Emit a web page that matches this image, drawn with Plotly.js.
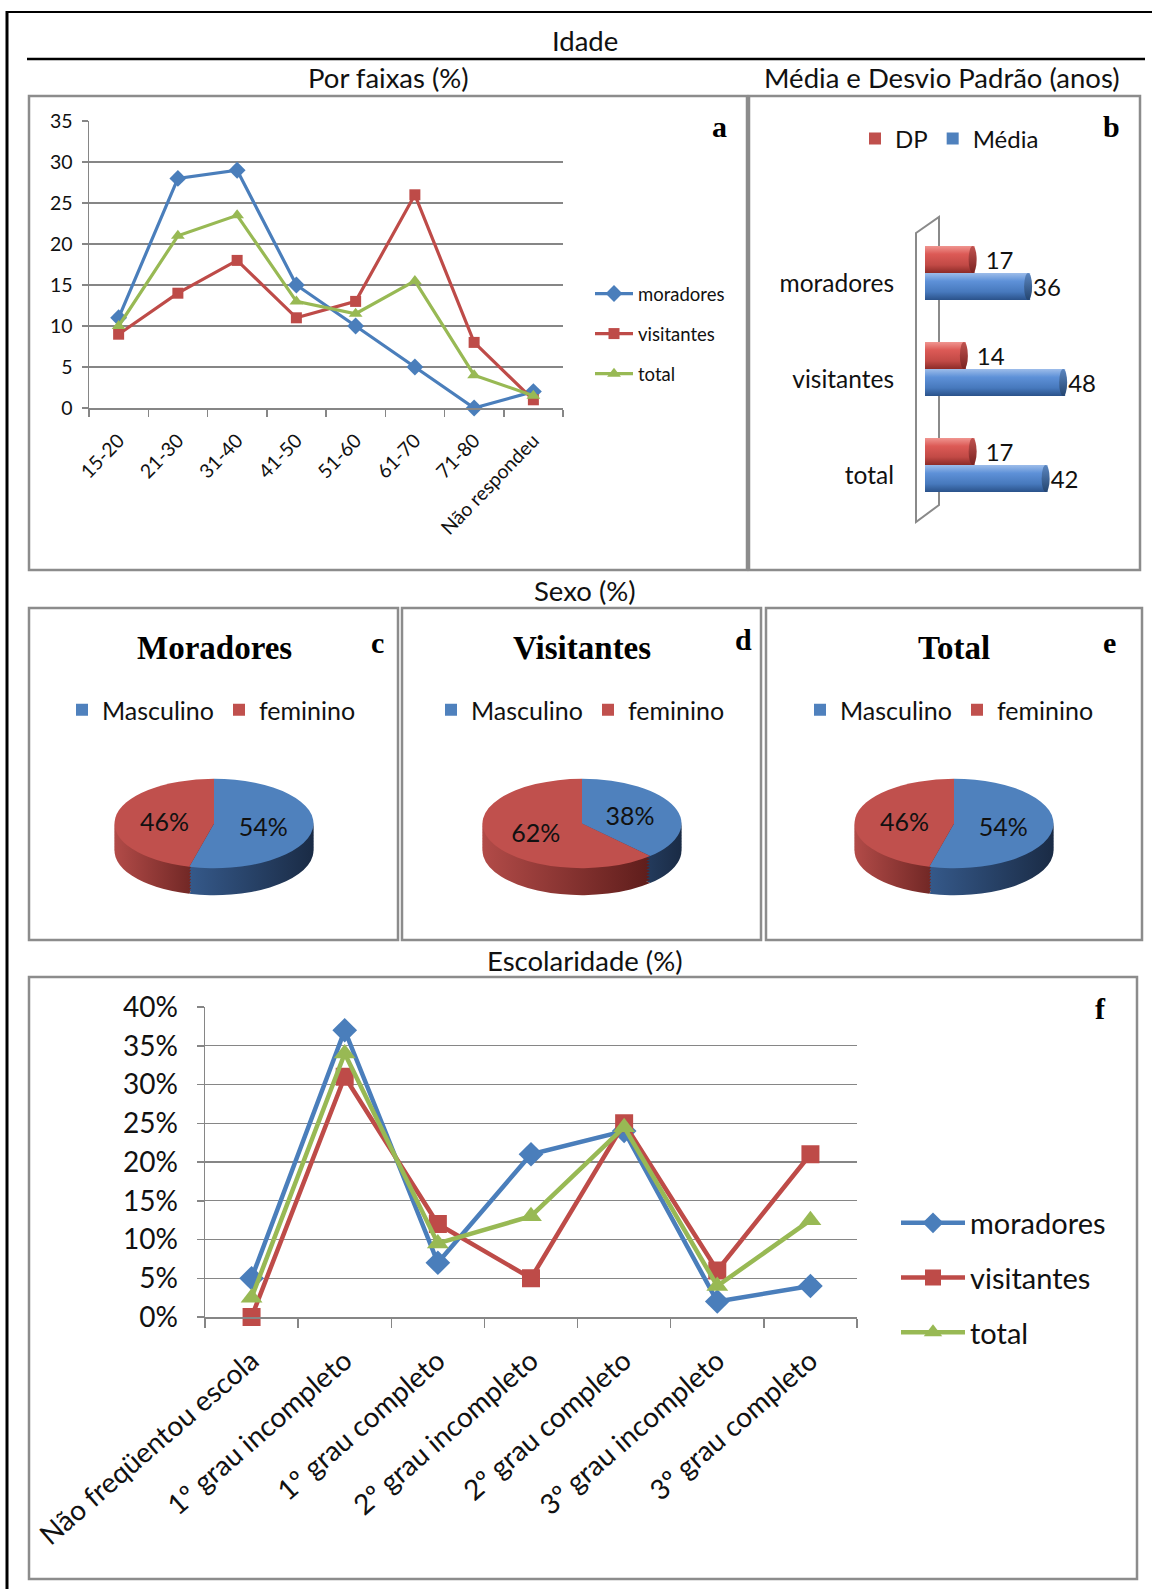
<!DOCTYPE html>
<html><head><meta charset="utf-8">
<script src="https://cdn.plot.ly/plotly-3.0.1.min.js"></script>
<style>html,body{margin:0;padding:0;background:#fff;} #chart{width:1152px;height:1589px;}</style>
</head><body><div id="chart"></div>
<script>
// ---------------- data ----------------
const seriesNames = ['moradores', 'visitantes', 'total'];

const ageGroups = ['15-20', '21-30', '31-40', '41-50', '51-60', '61-70', '71-80', 'Não respondeu'];
const ageMoradores = [11, 28, 29, 15, 10, 5, 0, 2];
const ageVisitantes = [9, 14, 18, 11, 13, 26, 8, 1];
const ageTotal = [10, 21, 23.5, 13, 11.5, 15.5, 4, 1.5];

const statGroups = ['moradores', 'visitantes', 'total'];
const statDP = [17, 14, 17];
const statMedia = [36, 48, 42];

const sexLabels = ['Masculino', 'feminino'];
const sexMoradores = [54, 46];
const sexVisitantes = [38, 62];
const sexTotal = [54, 46];

const eduLevels = ['Não freqüentou escola', '1º grau incompleto', '1º grau completo', '2º grau incompleto', '2º grau completo', '3º grau incompleto', '3º grau completo'];
const eduMoradores = [5, 37, 7, 21, 24, 2, 4];
const eduVisitantes = [0, 31, 12, 5, 25, 6, 21];
const eduTotal = [2.5, 34, 9.5, 13, 24.5, 4, 12.5];

// ---------------- layout helpers ----------------
const W = 1152, H = 1589;
const X = p => p / W;
const Y = p => 1 - p / H;
const FONT = 'Lato, "Open Sans", "DejaVu Sans", sans-serif';
const SERIF = '"Liberation Serif", "Times New Roman", "DejaVu Serif", serif';
const TXT = '#111111';
const GRID = '#868686';
const FRAME = '#8C8C8C';

const lineColors = ['#4A7EBB', '#BE4B48', '#98B954'];
const lineSymbols = ['diamond', 'square', 'triangle-up'];

const data = [];

// panel a
[ageMoradores, ageVisitantes, ageTotal].forEach((ys, i) => data.push({
  type: 'scatter', mode: 'lines+markers', x: ageGroups, y: ys, name: seriesNames[i],
  xaxis: 'x', yaxis: 'y', legend: 'legend', legendgroup: 'a' + i,
  line: {color: lineColors[i], width: 3.2},
  marker: {symbol: lineSymbols[i], size: [13, 11, 12][i], color: lineColors[i]},
  cliponaxis: false, hoverinfo: 'skip'
}));

// panel b
data.push({
  type: 'bar', orientation: 'h', y: statGroups, x: statDP, name: 'DP',
  xaxis: 'x2', yaxis: 'y2', legend: 'legend2',
  marker: {color: '#C0504D', line: {width: 0}},
  texttemplate: '\u2004%{x}', textposition: 'outside', constraintext: 'none',
  textfont: {size: 24, color: TXT, family: FONT}, cliponaxis: false, hoverinfo: 'skip'
});
data.push({
  type: 'bar', orientation: 'h', y: statGroups, x: statMedia, name: 'Média',
  xaxis: 'x2', yaxis: 'y2', legend: 'legend2',
  marker: {color: '#4F81BD', line: {width: 0}},
  texttemplate: '%{x}', textposition: 'outside', constraintext: 'none',
  textfont: {size: 24, color: TXT, family: FONT}, cliponaxis: false, hoverinfo: 'skip'
});

// panels c, d, e (pies drawn flat, then tilted)
const PIE_R = 99.5, PIE_CY = 823.5, PIE_S = 0.449, PIE_T = 27, SIDE_N = 9;
const pies = [
  {values: sexMoradores, cx: 214, legend: 'legend3', group: 'c'},
  {values: sexVisitantes, cx: 582, legend: 'legend4', group: 'd'},
  {values: sexTotal, cx: 954, legend: 'legend5', group: 'e'}
];
const pieMeta = [];
pies.forEach(p => {
  const domain = {x: [X(p.cx - PIE_R), X(p.cx + PIE_R)], y: [Y(PIE_CY + PIE_R), Y(PIE_CY - PIE_R)]};
  for (let k = SIDE_N; k >= 1; k--) {
    data.push({
      type: 'pie', labels: sexLabels, values: p.values, domain, sort: false,
      direction: 'clockwise', rotation: 0, textinfo: 'none', showlegend: false, hoverinfo: 'skip',
      legendgroup: p.group + 'side',
      marker: {colors: ['#2E4A73', '#9B3A37'], line: {width: 0}}
    });
    pieMeta.push({side: true, dy: PIE_T * k / SIDE_N});
  }
  data.push({
    type: 'pie', labels: sexLabels, values: p.values, domain, sort: false,
    direction: 'clockwise', rotation: 0, textinfo: 'percent', textposition: 'inside',
    insidetextorientation: 'horizontal',
    insidetextfont: {size: 25, color: TXT, family: FONT},
    legend: p.legend, legendgroup: p.group, hoverinfo: 'skip',
    marker: {colors: ['#4F81BD', '#C0504D'], line: {width: 0}}
  });
  pieMeta.push({side: false, dy: 0});
});

// panel f
[eduMoradores, eduVisitantes, eduTotal].forEach((ys, i) => data.push({
  type: 'scatter', mode: 'lines+markers', x: eduLevels, y: ys, name: seriesNames[i],
  xaxis: 'x3', yaxis: 'y3', legend: 'legend6', legendgroup: 'f' + i,
  line: {color: lineColors[i], width: 4.5},
  marker: {symbol: lineSymbols[i], size: [19, 18, 19][i], color: lineColors[i]},
  cliponaxis: false, hoverinfo: 'skip'
}));

// ---------------- layout ----------------
const ann = (x, y, text, size, extra) => Object.assign({
  xref: 'paper', yref: 'paper', x: X(x), y: Y(y), text, showarrow: false,
  xanchor: 'center', yanchor: 'middle', font: {size, family: FONT, color: TXT}
}, extra || {});
const serifAnn = (x, y, text, size) => ann(x, y, '<b>' + text + '</b>', size, {font: {size, family: SERIF, color: '#000'}});

const rect = (x0, y0, x1, y1) => ({type: 'rect', xref: 'paper', yref: 'paper', x0: X(x0), x1: X(x1), y0: Y(y1), y1: Y(y0), line: {color: FRAME, width: 2.5}, layer: 'below'});
const hline = (x0, x1, y, color, w) => ({type: 'line', xref: 'paper', yref: 'paper', x0: X(x0), x1: X(x1), y0: Y(y), y1: Y(y), line: {color, width: w}});
const vline = (x, y0, y1, color, w) => ({type: 'line', xref: 'paper', yref: 'paper', x0: X(x), x1: X(x), y0: Y(y0), y1: Y(y1), line: {color, width: w}});
const wallPath = 'M ' + X(916) + ' ' + Y(233) + ' L ' + X(939) + ' ' + Y(217) + ' L ' + X(939) + ' ' + Y(505) + ' L ' + X(916) + ' ' + Y(522) + ' Z';

const catAxis = (dom, anchor, n, size, ticklen, standoff, angle) => ({
  domain: dom, anchor, type: 'category', range: [-0.5, n - 0.5], tickson: 'boundaries',
  ticks: 'outside', ticklen, tickwidth: 1.5, tickcolor: GRID, showline: true, linecolor: GRID, linewidth: 1.5,
  showgrid: false, zeroline: false, tickangle: angle, fixedrange: true, ticklabelstandoff: standoff,
  tickfont: {size, family: FONT, color: TXT}
});
const valAxis = (dom, anchor, max, size, suffix, ticklen, standoff) => ({
  domain: dom, anchor, range: [0, max], dtick: 5, ticksuffix: suffix,
  ticks: 'outside', ticklen, tickwidth: 1.5, tickcolor: GRID, showline: true, linecolor: GRID, linewidth: 1.5,
  showgrid: true, gridcolor: GRID, gridwidth: 1.3, zeroline: false, fixedrange: true, ticklabelstandoff: standoff,
  tickfont: {size, family: FONT, color: TXT}
});
const pieLegend = x => ({orientation: 'h', traceorder: 'normal', x: X(x), xanchor: 'left', y: Y(710), yanchor: 'middle', font: {size: 25, family: FONT, color: TXT}, bgcolor: 'rgba(0,0,0,0)'});

const layout = {
  width: W, height: H, margin: {l: 0, r: 0, t: 0, b: 0},
  paper_bgcolor: '#ffffff', plot_bgcolor: 'rgba(0,0,0,0)',
  font: {family: FONT, color: TXT},
  showlegend: true,
  barmode: 'group', bargap: 0.4375, bargroupgap: 0,
  xaxis: catAxis([X(89), X(563)], 'y', ageGroups.length, 19.5, 7, 12, -46),
  yaxis: valAxis([Y(408), Y(121)], 'x', 35, 19.5, '', 6, 5),
  xaxis2: {domain: [X(925), X(1125)], anchor: 'y2', range: [0, 68.5], visible: false, fixedrange: true},
  yaxis2: {domain: [Y(513), Y(225)], anchor: 'x2', type: 'category', categoryarray: statGroups,
    range: [2.5, -0.5], showgrid: false, showline: false, zeroline: false, ticks: '',
    ticklabelstandoff: 30, ticklabelshift: -10, fixedrange: true,
    tickfont: {size: 24.5, family: FONT, color: TXT}},
  xaxis3: catAxis([X(205), X(857)], 'y3', eduLevels.length, 28, 9, 15, -41),
  yaxis3: valAxis([Y(1317), Y(1007)], 'x3', 40, 28, '%', 7, 13),
  legend: {x: X(590), xanchor: 'left', y: Y(334), yanchor: 'middle', traceorder: 'grouped', tracegroupgap: 13,
    itemwidth: 38, font: {size: 18.5, family: FONT, color: TXT}, bgcolor: 'rgba(0,0,0,0)'},
  legend2: {orientation: 'h', x: X(855), xanchor: 'left', y: Y(139), yanchor: 'middle',
    font: {size: 24, family: FONT, color: TXT}, bgcolor: 'rgba(0,0,0,0)'},
  legend3: pieLegend(62),
  legend4: pieLegend(431),
  legend5: pieLegend(800),
  legend6: {x: X(896), xanchor: 'left', y: Y(1278), yanchor: 'middle', traceorder: 'grouped', tracegroupgap: 14,
    itemwidth: 64, font: {size: 29, family: FONT, color: TXT}, bgcolor: 'rgba(0,0,0,0)'},
  annotations: [
    ann(585, 41, 'Idade', 27.5),
    ann(388, 78, 'Por faixas (%)', 27.5),
    ann(942, 78, 'Média e Desvio Padrão (anos)', 27.5),
    ann(585, 590, 'Sexo (%)', 27.5),
    ann(585, 960, 'Escolaridade (%)', 27.5),
    serifAnn(719, 127, 'a', 30),
    serifAnn(1111, 127, 'b', 30),
    serifAnn(377, 642, 'c', 30),
    serifAnn(743, 640, 'd', 30),
    serifAnn(1109, 642, 'e', 30),
    serifAnn(1100, 1008, 'f', 30),
    serifAnn(214, 648, 'Moradores', 33),
    serifAnn(582, 648, 'Visitantes', 33),
    serifAnn(954, 648, 'Total', 33)
  ],
  shapes: [
    hline(6, 1152, 12, '#000', 2),
    vline(7, 11, 1589, '#000', 3),
    hline(27, 1145, 59, '#000', 2.5),
    rect(29, 96, 747, 570),
    rect(749, 96, 1140, 570),
    rect(29, 608, 398, 940),
    rect(402, 608, 761, 940),
    rect(766, 608, 1142, 940),
    rect(29, 977, 1137, 1579),
    {type: 'path', xref: 'paper', yref: 'paper', path: wallPath, line: {color: '#8a8a8a', width: 2}, fillcolor: 'rgba(0,0,0,0)', layer: 'below'}
  ]
};

// ---------------- render + 3D styling ----------------
const NS = 'http://www.w3.org/2000/svg';
function counterScale(el, s) {
  const orig = el.getAttribute('transform') || '';
  const bb = el.getBBox();
  let cx = bb.x + bb.width / 2, cy = bb.y + bb.height / 2;
  const tl = el.transform && el.transform.baseVal;
  if (tl && tl.numberOfItems) {
    const m = tl.consolidate().matrix;
    const nx = m.a * cx + m.c * cy + m.e, ny = m.b * cx + m.d * cy + m.f;
    cx = nx; cy = ny;
  }
  el.setAttribute('transform', 'translate(' + cx + ' ' + cy + ') scale(1 ' + (1 / s) + ') translate(' + (-cx) + ' ' + (-cy) + ') ' + orig);
}

const gd = document.getElementById('chart');
Plotly.newPlot(gd, data, layout, {staticPlot: true, displayModeBar: false}).then(() => {
  const svg = gd.querySelector('svg.main-svg');
  let defs = svg.querySelector('defs');
  if (!defs) { defs = document.createElementNS(NS, 'defs'); svg.insertBefore(defs, svg.firstChild); }
  function grad(id, vertical, stops) {
    const g = document.createElementNS(NS, 'linearGradient');
    g.setAttribute('id', id);
    g.setAttribute('x1', '0'); g.setAttribute('y1', '0');
    g.setAttribute('x2', vertical ? '0' : '1'); g.setAttribute('y2', vertical ? '1' : '0');
    stops.forEach(([o, c]) => { const s = document.createElementNS(NS, 'stop'); s.setAttribute('offset', o); s.setAttribute('stop-color', c); g.appendChild(s); });
    defs.appendChild(g);
  }
  grad('sideBlue', false, [['0', '#35598A'], ['1', '#1A2B45']]);
  grad('sideRed', false, [['0', '#B24B48'], ['1', '#5E1D1B']]);
  grad('cylBlue', true, [['0', '#9DBDEA'], ['0.3', '#5E91D8'], ['0.7', '#4779BD'], ['1', '#2A528A']]);
  grad('cylRed', true, [['0', '#F09590'], ['0.3', '#DC5A56'], ['0.7', '#C24A46'], ['1', '#8C2B28']]);
  grad('capBlue', true, [['0', '#5B86C0'], ['1', '#24456F']]);
  grad('capRed', true, [['0', '#C05350'], ['1', '#7A2321']]);

  gd.querySelectorAll('.pielayer g.trace').forEach((g, idx) => {
    const m = pieMeta[idx];
    if (!m) return;
    const bb = g.getBBox();
    const cy = bb.y + bb.height / 2;
    if (m.side) {
      g.querySelectorAll('g.slice').forEach((sl, j) => {
        const p = sl.querySelector('path.surface') || sl.querySelector('path');
        if (p) p.style.fill = j === 0 ? 'url(#sideBlue)' : 'url(#sideRed)';
      });
    } else {
      g.querySelectorAll('text.slicetext').forEach(t => counterScale(t, PIE_S));
    }
    g.setAttribute('transform', 'translate(0 ' + (cy * (1 - PIE_S) + m.dy) + ') scale(1 ' + PIE_S + ')');
  });

  gd.querySelectorAll('.barlayer g.trace').forEach((g, idx) => {
    g.querySelectorAll('g.point').forEach(pt => {
      const p = pt.querySelector('path');
      if (!p) return;
      p.style.fill = idx === 0 ? 'url(#cylRed)' : 'url(#cylBlue)';
      const bb = p.getBBox();
      const e = document.createElementNS(NS, 'ellipse');
      e.setAttribute('cx', bb.x + bb.width - 2);
      e.setAttribute('cy', bb.y + bb.height / 2);
      e.setAttribute('rx', 4);
      e.setAttribute('ry', bb.height / 2);
      e.setAttribute('fill', idx === 0 ? 'url(#capRed)' : 'url(#capBlue)');
      pt.insertBefore(e, p.nextSibling);
    });
  });
});
</script>
</body></html>
